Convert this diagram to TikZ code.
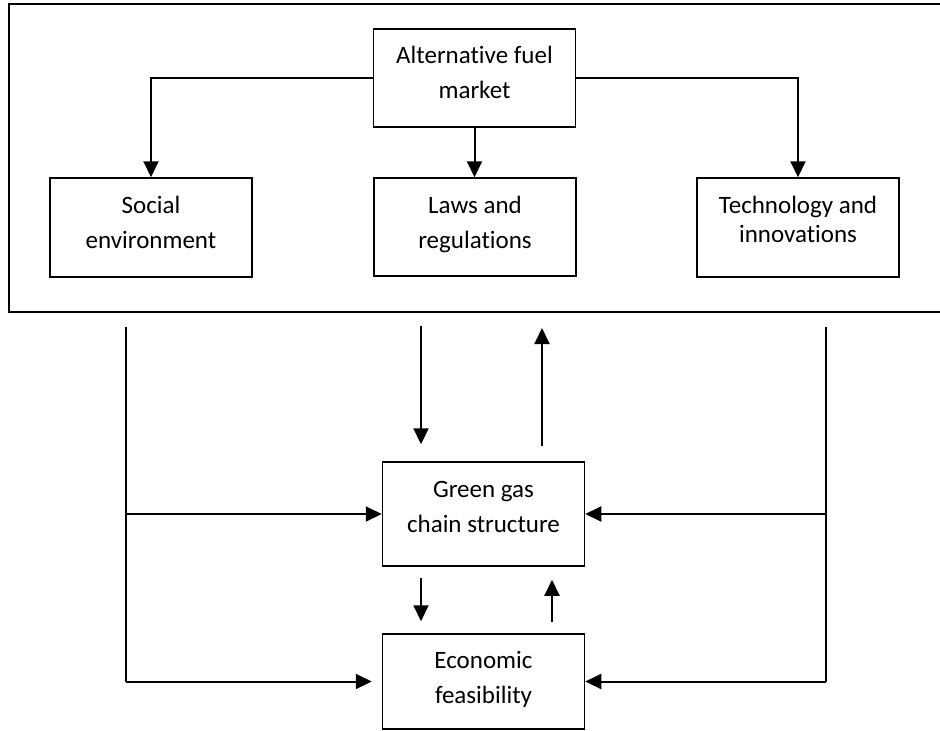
\documentclass[tikz,border=0pt]{standalone}
\usepackage{fontspec}
\setmainfont{Carlito}[Ligatures={NoCommon}]
\usetikzlibrary{arrows.meta,positioning,calc}
\newcommand{\boxtext}[1]{\begin{tabular}[t]{@{}c@{}}#1\end{tabular}}

\begin{document}
\begin{tikzpicture}[x=1pt, y=-1pt,
   block/.style={draw, line width=1.5pt, inner sep=0pt, minimum width=202pt, text height=35pt, text depth=64pt, font=\fontsize{25}{35}\selectfont},
   flow/.style={line width=2pt, -{Triangle[length=16pt,width=15pt]}},
   feed/.style={line width=1.6pt}]
   \clip (0,0) rectangle (940,731);
   \node[draw, line width=1.3pt, minimum width=938pt, minimum height=308pt, inner sep=0pt] (env) at (478,158) {};
   \node[block, text height=34pt, text depth=64pt] (market) at (474.5,78) {\boxtext{Alternative fuel\\market}};
   \node[block] (social) at (151,227.5) {\boxtext{Social\\environment}};
   \node[block, text depth=63pt] (laws) at (475,227) {\boxtext{Laws and\\regulations}};
   \node[block] (tech) at (798,227.5) {\boxtext{Technology and\\[-6pt]innovations}};
   \node[block, text depth=69pt] (green) at (483.5,514) {\boxtext{Green gas\\chain structure}};
   \node[block, text height=34pt, text depth=61pt] (econ) at (483.5,681.5) {\boxtext{Economic\\feasibility}};
   \draw[flow] (market.west) -| (social.north);
   \draw[flow] (market.south) -- (market.south |- laws.north);
   \draw[flow] (market.east) -| (tech.north);
   \coordinate (lt) at (126,327);
   \coordinate (rt) at (826,327);
   \coordinate (dn) at (421,326);
   \coordinate (up) at (542,328);
   \coordinate (fb) at (552,600);
   \draw[feed] (lt) -- (lt |- econ.west);
   \draw[feed] (rt) -- (rt |- econ.east);
   \draw[flow] (lt |- green.west) -- (green.west);
   \draw[flow, shorten >=10pt] (lt |- econ.west) -- (econ.west);
   \draw[flow] (rt |- green.east) -- (green.east);
   \draw[flow] (rt |- econ.east) -- (econ.east);
   \draw[flow, shorten >=17pt] (dn) -- (dn |- green.north);
   \draw[flow, shorten <=15pt] (up |- green.north) -- (up);
   \draw[flow, shorten <=11pt, shorten >=12pt] (green.south -| dn) -- (econ.north -| dn);
   \draw[flow, shorten <=11pt, shorten >=13pt] (econ.north -| fb) -- (green.south -| fb);
\end{tikzpicture}
\end{document}
